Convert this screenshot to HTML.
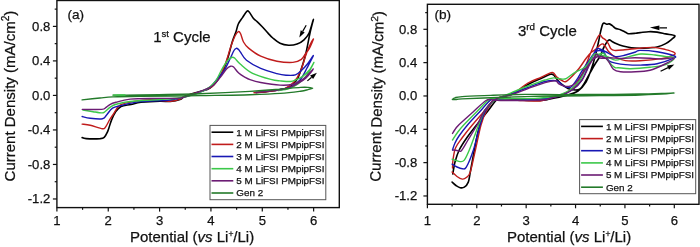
<!DOCTYPE html>
<html><head><meta charset="utf-8"><style>
html,body{margin:0;padding:0;background:#fff;width:700px;height:247px;overflow:hidden}
svg{position:absolute;left:0;top:0;filter:blur(0.3px)}
text{font-family:"Liberation Sans",sans-serif;fill:#111;stroke:#111;stroke-width:0.25px}
.tl{font-size:13.1px}
.at{font-size:15px}
.lg{font-size:9.85px}
</style></head><body>
<svg width="700" height="247" viewBox="0 0 700 247">
<g stroke="#111" stroke-width="1.2">
<rect x="56.9" y="0.5" width="282.4" height="207.1" fill="none" stroke="#111" stroke-width="1.4"/>
<line x1="52.9" y1="198.97" x2="56.9" y2="198.97"/>
<text class="tl" x="50.3" y="203.27" text-anchor="end">-1.2</text>
<line x1="54.7" y1="181.71" x2="56.9" y2="181.71"/>
<line x1="52.9" y1="164.45" x2="56.9" y2="164.45"/>
<text class="tl" x="50.3" y="168.75" text-anchor="end">-0.8</text>
<line x1="54.7" y1="147.20" x2="56.9" y2="147.20"/>
<line x1="52.9" y1="129.94" x2="56.9" y2="129.94"/>
<text class="tl" x="50.3" y="134.24" text-anchor="end">-0.4</text>
<line x1="54.7" y1="112.68" x2="56.9" y2="112.68"/>
<line x1="52.9" y1="95.42" x2="56.9" y2="95.42"/>
<text class="tl" x="50.3" y="99.72" text-anchor="end">0.0</text>
<line x1="54.7" y1="78.16" x2="56.9" y2="78.16"/>
<line x1="52.9" y1="60.90" x2="56.9" y2="60.90"/>
<text class="tl" x="50.3" y="65.20" text-anchor="end">0.4</text>
<line x1="54.7" y1="43.65" x2="56.9" y2="43.65"/>
<line x1="52.9" y1="26.39" x2="56.9" y2="26.39"/>
<text class="tl" x="50.3" y="30.69" text-anchor="end">0.8</text>
<line x1="54.7" y1="9.13" x2="56.9" y2="9.13"/>
<line x1="56.90" y1="207.6" x2="56.90" y2="211.6"/>
<text class="tl" x="56.90" y="225" text-anchor="middle">1</text>
<line x1="82.57" y1="207.6" x2="82.57" y2="209.8"/>
<line x1="108.25" y1="207.6" x2="108.25" y2="211.6"/>
<text class="tl" x="108.25" y="225" text-anchor="middle">2</text>
<line x1="133.92" y1="207.6" x2="133.92" y2="209.8"/>
<line x1="159.59" y1="207.6" x2="159.59" y2="211.6"/>
<text class="tl" x="159.59" y="225" text-anchor="middle">3</text>
<line x1="185.26" y1="207.6" x2="185.26" y2="209.8"/>
<line x1="210.94" y1="207.6" x2="210.94" y2="211.6"/>
<text class="tl" x="210.94" y="225" text-anchor="middle">4</text>
<line x1="236.61" y1="207.6" x2="236.61" y2="209.8"/>
<line x1="262.28" y1="207.6" x2="262.28" y2="211.6"/>
<text class="tl" x="262.28" y="225" text-anchor="middle">5</text>
<line x1="287.95" y1="207.6" x2="287.95" y2="209.8"/>
<line x1="313.63" y1="207.6" x2="313.63" y2="211.6"/>
<text class="tl" x="313.63" y="225" text-anchor="middle">6</text>
<rect x="427.4" y="4.3" width="271.6" height="200.0" fill="none" stroke="#111" stroke-width="1.4"/>
<line x1="423.4" y1="195.97" x2="427.4" y2="195.97"/>
<text class="tl" x="417.2" y="200.27" text-anchor="end">-1.2</text>
<line x1="425.2" y1="179.30" x2="427.4" y2="179.30"/>
<line x1="423.4" y1="162.63" x2="427.4" y2="162.63"/>
<text class="tl" x="417.2" y="166.93" text-anchor="end">-0.8</text>
<line x1="425.2" y1="145.97" x2="427.4" y2="145.97"/>
<line x1="423.4" y1="129.30" x2="427.4" y2="129.30"/>
<text class="tl" x="417.2" y="133.60" text-anchor="end">-0.4</text>
<line x1="425.2" y1="112.63" x2="427.4" y2="112.63"/>
<line x1="423.4" y1="95.97" x2="427.4" y2="95.97"/>
<text class="tl" x="417.2" y="100.27" text-anchor="end">0.0</text>
<line x1="425.2" y1="79.30" x2="427.4" y2="79.30"/>
<line x1="423.4" y1="62.63" x2="427.4" y2="62.63"/>
<text class="tl" x="417.2" y="66.93" text-anchor="end">0.4</text>
<line x1="425.2" y1="45.97" x2="427.4" y2="45.97"/>
<line x1="423.4" y1="29.30" x2="427.4" y2="29.30"/>
<text class="tl" x="417.2" y="33.60" text-anchor="end">0.8</text>
<line x1="425.2" y1="12.63" x2="427.4" y2="12.63"/>
<line x1="427.40" y1="204.3" x2="427.40" y2="208.3"/>
<text class="tl" x="427.40" y="225" text-anchor="middle">1</text>
<line x1="452.09" y1="204.3" x2="452.09" y2="206.5"/>
<line x1="476.78" y1="204.3" x2="476.78" y2="208.3"/>
<text class="tl" x="476.78" y="225" text-anchor="middle">2</text>
<line x1="501.47" y1="204.3" x2="501.47" y2="206.5"/>
<line x1="526.16" y1="204.3" x2="526.16" y2="208.3"/>
<text class="tl" x="526.16" y="225" text-anchor="middle">3</text>
<line x1="550.85" y1="204.3" x2="550.85" y2="206.5"/>
<line x1="575.55" y1="204.3" x2="575.55" y2="208.3"/>
<text class="tl" x="575.55" y="225" text-anchor="middle">4</text>
<line x1="600.24" y1="204.3" x2="600.24" y2="206.5"/>
<line x1="624.93" y1="204.3" x2="624.93" y2="208.3"/>
<text class="tl" x="624.93" y="225" text-anchor="middle">5</text>
<line x1="649.62" y1="204.3" x2="649.62" y2="206.5"/>
<line x1="674.31" y1="204.3" x2="674.31" y2="208.3"/>
<text class="tl" x="674.31" y="225" text-anchor="middle">6</text>
</g>
<g fill="none" stroke-width="1.4" stroke-linejoin="round" stroke-linecap="round">
<path d="M82.1 137.6 C82.8 137.8 83.2 138.4 86.2 138.6 C89.2 138.8 97.3 138.8 100.3 138.6 C103.3 138.3 103.2 138.2 104.4 137.1 C105.6 136.0 106.7 133.5 107.4 132.0 C108.2 130.5 108.2 130.0 108.9 128.0 C109.6 126.0 110.4 122.8 111.5 120.1 C112.6 117.4 113.9 114.3 115.5 112.0 C117.1 109.7 118.4 107.8 121.0 106.5 C123.6 105.2 127.7 105.2 131.0 104.5 C134.3 103.8 136.2 102.8 141.0 102.3 C145.8 101.8 155.1 101.3 160.0 101.2 C164.9 101.1 167.0 101.7 170.3 101.4 C173.6 101.1 177.5 100.4 180.0 99.5 C182.5 98.6 182.2 97.4 185.5 96.1 C188.8 94.8 195.9 92.8 200.0 91.5 C204.1 90.2 206.8 90.2 210.0 88.0 C213.2 85.8 216.5 81.7 219.0 78.0 C221.5 74.3 223.3 70.0 225.0 66.0 C226.7 62.0 227.8 58.2 229.0 54.0 C230.2 49.8 231.3 44.7 232.5 41.0 C233.7 37.3 234.9 34.8 235.9 32.0 C236.9 29.2 237.2 26.4 238.3 24.0 C239.4 21.6 241.1 19.7 242.5 17.6 C243.9 15.5 245.7 12.3 246.8 11.3 C247.9 10.3 247.9 10.6 249.0 11.8 C250.1 13.0 252.2 17.0 253.5 18.6 C254.8 20.2 255.7 20.3 257.1 21.6 C258.5 22.9 260.2 24.6 262.0 26.5 C263.8 28.4 266.2 31.2 268.0 33.1 C269.8 35.0 270.8 36.3 272.8 38.0 C274.8 39.7 277.4 42.0 280.0 43.2 C282.6 44.4 285.8 45.1 288.6 45.3 C291.5 45.4 294.5 45.0 297.1 44.1 C299.7 43.2 302.0 41.8 304.0 39.9 C306.0 38.0 307.5 36.4 309.1 33.0 C310.7 29.6 313.2 19.3 313.4 19.3 C313.5 19.3 311.3 27.2 310.0 33.0 C308.7 38.8 307.3 47.7 305.7 54.0 C304.1 60.3 302.2 66.5 300.6 71.0 C299.0 75.5 298.3 78.2 296.0 81.0 C293.7 83.8 291.3 86.3 287.0 88.0 C282.7 89.7 275.2 90.4 270.0 91.2 C264.8 92.0 258.3 92.4 256.0 92.6" stroke="#000000" stroke-width="1.60"/>
<path d="M82.1 124.1 C83.4 124.3 86.8 124.4 90.2 125.2 C93.6 126.0 99.9 128.4 102.4 128.7 C104.9 129.0 104.2 128.6 105.4 127.2 C106.6 125.8 108.1 122.3 109.4 120.1 C110.8 117.9 111.7 116.5 113.5 114.0 C115.3 111.5 116.5 107.3 120.1 105.2 C123.7 103.1 130.2 102.1 135.3 101.2 C140.4 100.3 144.6 99.6 150.5 99.6 C156.4 99.6 165.8 101.3 170.7 101.2 C175.6 101.1 177.5 99.9 180.0 99.1 C182.5 98.2 180.5 97.9 185.5 96.1 C190.5 94.2 204.2 91.3 210.0 88.0 C215.8 84.7 217.3 80.3 220.0 76.0 C222.7 71.7 224.2 67.0 226.0 62.0 C227.8 57.0 229.5 50.3 231.0 46.0 C232.5 41.7 233.8 38.4 235.0 36.0 C236.2 33.6 237.4 32.0 238.3 31.6 C239.2 31.2 239.6 31.8 240.5 33.5 C241.4 35.2 242.2 39.6 243.5 42.0 C244.8 44.4 245.7 45.7 248.6 48.1 C251.5 50.5 256.0 54.0 260.7 56.2 C265.4 58.4 271.5 60.2 276.9 61.2 C282.3 62.2 288.8 62.7 292.9 62.4 C297.0 62.1 299.3 60.9 301.4 59.4 C303.5 57.9 304.4 55.1 305.7 53.4 C307.0 51.7 307.8 51.4 309.1 49.0 C310.4 46.6 313.8 38.5 313.4 39.0 C313.0 39.5 309.1 46.7 307.0 52.0 C304.9 57.3 302.8 66.0 300.6 71.0 C298.4 76.0 296.6 79.1 294.0 82.0 C291.4 84.9 289.3 86.9 285.0 88.5 C280.7 90.1 273.2 90.8 268.0 91.5 C262.8 92.2 256.3 92.6 254.0 92.8" stroke="#c01c1c" stroke-width="1.40"/>
<path d="M82.1 116.5 C83.4 116.8 86.8 117.9 90.2 118.3 C93.6 118.7 99.7 119.3 102.4 118.8 C105.1 118.3 104.7 117.0 106.4 115.2 C108.1 113.4 110.1 109.8 112.5 108.2 C114.9 106.6 116.0 106.7 120.6 105.6 C125.2 104.5 131.8 102.5 140.0 101.6 C148.2 100.7 162.3 100.8 170.0 100.0 C177.7 99.2 179.7 98.4 186.0 96.5 C192.3 94.6 202.7 91.7 208.0 88.6 C213.3 85.5 215.3 81.0 218.0 78.0 C220.7 75.0 222.2 73.6 224.3 70.3 C226.4 67.0 228.7 61.5 230.3 58.2 C231.9 54.9 233.0 52.1 234.0 50.5 C235.0 48.9 235.7 48.5 236.4 48.3 C237.2 48.1 237.8 48.9 238.5 49.5 C239.2 50.1 239.2 50.3 240.5 52.1 C241.8 53.9 243.1 57.5 246.5 60.2 C249.9 62.9 255.6 66.1 260.7 68.3 C265.8 70.5 272.7 72.4 276.9 73.6 C281.1 74.8 282.9 75.0 286.0 75.2 C289.1 75.4 292.8 75.7 295.4 74.9 C298.0 74.1 299.4 72.4 301.4 70.6 C303.4 68.8 305.2 66.8 307.2 64.3 C309.2 61.8 313.4 55.0 313.4 55.6 C313.4 56.2 309.2 63.9 307.0 68.0 C304.8 72.1 302.8 76.8 300.0 80.0 C297.2 83.2 294.2 85.8 290.0 87.5 C285.8 89.2 277.5 90.0 275.0 90.5" stroke="#1818b4" stroke-width="1.40"/>
<path d="M82.9 110.0 C84.6 110.3 90.0 111.2 93.1 111.7 C96.2 112.2 99.8 112.9 101.7 112.9 C103.6 113.0 103.2 113.0 104.6 112.0 C106.0 111.0 108.4 108.4 110.3 107.1 C112.2 105.8 112.7 105.2 116.0 104.3 C119.3 103.4 122.7 102.3 130.0 101.5 C137.3 100.7 150.8 100.2 160.0 99.5 C169.2 98.8 177.5 98.6 185.0 97.0 C192.5 95.4 200.0 92.5 205.0 90.0 C210.0 87.5 212.2 85.5 215.0 82.0 C217.8 78.5 219.8 72.7 222.0 69.0 C224.2 65.3 226.3 62.0 228.0 60.0 C229.7 58.0 231.2 57.5 232.4 57.2 C233.6 57.0 233.7 57.3 235.0 58.5 C236.3 59.7 237.6 61.8 240.5 64.3 C243.4 66.8 247.5 70.9 252.6 73.4 C257.6 75.9 266.2 78.2 270.8 79.4 C275.4 80.7 276.6 80.6 280.0 80.9 C283.4 81.2 288.4 81.7 291.0 81.5 C293.6 81.3 293.5 80.8 295.4 80.0 C297.3 79.2 300.0 78.2 302.3 76.6 C304.6 75.0 307.3 72.7 309.2 70.3 C311.1 67.9 314.3 61.6 313.9 62.4 C313.5 63.2 309.6 71.4 307.0 75.0 C304.4 78.6 301.0 81.8 298.0 84.0 C295.0 86.2 292.3 87.4 289.0 88.5 C285.7 89.6 279.8 90.2 278.0 90.5" stroke="#3cc84a" stroke-width="1.40"/>
<path d="M82.3 109.4 C85.5 109.4 97.8 109.7 101.7 109.4 C105.6 109.1 104.3 108.6 105.7 107.7 C107.1 106.8 108.6 105.2 110.3 104.3 C112.0 103.4 112.7 103.2 116.0 102.3 C119.3 101.4 122.9 99.8 130.2 99.1 C137.5 98.4 151.7 98.6 160.0 98.4 C168.3 98.2 174.7 98.8 180.0 98.1 C185.3 97.4 187.9 95.9 192.0 94.5 C196.1 93.1 200.7 91.3 204.3 89.8 C207.9 88.2 210.7 87.3 213.4 85.2 C216.1 83.1 218.3 79.8 220.5 77.1 C222.7 74.4 224.8 70.8 226.5 69.0 C228.2 67.2 229.4 66.5 230.6 66.2 C231.8 65.9 232.2 65.8 233.6 67.0 C234.9 68.2 236.8 71.4 238.7 73.1 C240.5 74.8 242.8 76.0 244.7 77.1 C246.6 78.2 247.3 78.8 250.0 79.7 C252.7 80.6 255.7 81.6 260.7 82.5 C265.7 83.4 274.6 84.8 280.0 85.1 C285.4 85.4 289.3 85.1 292.9 84.3 C296.5 83.5 299.3 81.2 301.4 80.0 C303.4 78.8 303.2 79.2 305.2 77.4 C307.2 75.6 313.3 68.8 313.4 68.9 C313.5 69.0 308.7 75.5 306.0 78.0 C303.3 80.5 300.2 82.3 297.0 84.0 C293.8 85.7 291.5 87.1 287.0 88.3 C282.5 89.5 275.2 90.3 270.0 91.0 C264.8 91.7 258.3 92.1 256.0 92.3" stroke="#6c1c74" stroke-width="1.40"/>
<path d="M113.0 95.1 C117.5 95.1 125.5 95.1 140.0 94.9 C154.5 94.7 181.7 94.3 200.0 93.7 C218.3 93.1 236.6 92.2 250.0 91.4 C263.4 90.6 271.9 89.8 280.3 89.1 C288.7 88.4 296.0 87.7 300.6 87.4 C305.2 87.1 306.0 87.2 308.0 87.4 C310.0 87.6 312.7 87.9 312.7 88.3 C312.7 88.7 310.0 89.1 308.0 89.6 C306.0 90.1 305.2 90.6 300.6 91.2 C296.0 91.8 288.7 92.8 280.3 93.4 C271.9 94.0 263.4 94.3 250.0 94.7 C236.6 95.1 218.3 95.3 200.0 95.6 C181.7 95.9 154.5 96.1 140.0 96.3 C125.5 96.5 119.7 96.6 113.0 96.9 C106.3 97.2 105.2 97.5 100.0 98.0 C94.8 98.5 85.1 99.6 82.1 99.9" stroke="#237a2a" stroke-width="1.40"/>
<path d="M113.3 95.1 C115.2 95.1 123.0 95.0 125.0 95.0" stroke="#3cc84a" stroke-width="1.40"/>
<path d="M452.1 182.1 C452.8 182.7 454.6 184.6 456.0 185.5 C457.4 186.4 458.8 187.4 460.2 187.7 C461.6 188.0 462.9 188.1 464.3 187.2 C465.7 186.3 467.3 184.6 468.3 182.1 C469.3 179.6 469.4 177.0 470.3 172.0 C471.2 167.0 472.7 158.7 474.0 152.0 C475.3 145.3 476.5 138.0 478.0 132.0 C479.5 126.0 481.0 120.7 483.0 116.0 C485.0 111.3 487.5 107.0 490.0 104.0 C492.5 101.0 494.1 99.7 498.0 98.0 C501.9 96.3 508.3 96.0 513.3 93.8 C518.3 91.5 523.4 87.0 528.0 84.5 C532.6 82.0 537.2 80.2 541.0 78.5 C544.8 76.8 548.4 74.9 550.5 74.3 C552.6 73.7 552.4 74.1 553.5 75.0 C554.6 75.9 555.9 78.1 557.1 79.5 C558.4 80.9 559.2 82.1 561.0 83.6 C562.8 85.1 565.7 87.4 568.0 88.5 C570.3 89.6 573.0 89.9 575.0 90.0 C577.0 90.1 578.5 90.0 580.0 89.0 C581.5 88.0 582.7 86.1 584.0 84.0 C585.3 81.9 586.2 79.8 588.0 76.6 C589.8 73.4 592.5 68.4 594.5 65.0 C596.5 61.6 598.6 59.0 600.2 56.0 C601.8 53.0 602.6 49.6 604.0 47.0 C605.4 44.4 607.3 41.0 608.6 40.1 C609.9 39.2 610.8 40.9 612.0 41.5 C613.2 42.1 614.2 42.8 616.0 43.6 C617.8 44.4 620.3 45.4 622.9 46.1 C625.5 46.8 628.5 47.5 631.4 47.9 C634.2 48.3 637.1 48.3 640.0 48.3 C642.9 48.3 645.8 48.1 648.6 47.9 C651.5 47.7 654.2 47.7 657.1 47.0 C660.0 46.3 663.3 44.9 665.7 43.6 C668.1 42.3 670.2 40.6 671.7 39.3 C673.2 38.0 675.7 36.5 674.7 35.6 C673.7 34.7 668.6 34.5 665.7 33.9 C662.8 33.3 660.0 32.5 657.1 32.1 C654.2 31.7 651.5 31.6 648.6 31.7 C645.8 31.8 642.2 32.4 640.0 32.6 C637.8 32.9 637.5 33.0 635.6 33.2 C633.7 33.4 630.2 33.9 628.5 33.7 C626.8 33.5 626.9 32.9 625.5 32.2 C624.1 31.5 622.1 30.4 620.4 29.7 C618.7 29.0 616.6 28.9 615.3 28.2 C613.9 27.5 613.3 26.3 612.3 25.6 C611.3 24.9 610.2 24.1 609.3 23.9 C608.4 23.7 607.6 24.4 606.7 24.3 C605.9 24.2 604.9 23.1 604.2 23.1 C603.5 23.1 603.3 22.6 602.7 24.1 C602.1 25.6 601.2 29.0 600.5 32.0 C599.8 35.0 599.4 37.8 598.5 42.0 C597.6 46.2 596.2 52.3 595.0 57.0 C593.8 61.7 592.5 65.8 591.0 70.0 C589.5 74.2 588.2 78.5 586.0 82.0 C583.8 85.5 581.3 88.8 578.0 91.0 C574.7 93.2 570.7 94.2 566.0 95.5 C561.3 96.8 554.3 98.2 550.0 99.0 C545.7 99.8 545.0 100.3 540.0 100.5 C535.0 100.7 525.7 100.2 520.0 100.0 C514.3 99.8 509.7 99.4 506.0 99.2 C502.3 99.0 501.1 96.5 498.0 98.6 C494.9 100.6 491.1 107.1 487.5 111.5 C483.9 115.9 479.9 120.7 476.5 125.0 C473.1 129.3 469.9 133.3 467.0 137.5 C464.1 141.7 461.2 145.9 459.2 150.0 C457.2 154.1 456.1 158.0 455.0 162.0 C453.9 166.0 453.2 172.0 452.8 174.0" stroke="#000000" stroke-width="1.60"/>
<path d="M452.1 172.0 C452.9 172.8 455.3 175.3 457.0 176.5 C458.7 177.7 460.8 178.9 462.3 179.1 C463.9 179.3 465.0 178.8 466.3 177.6 C467.6 176.4 468.8 176.6 470.3 172.0 C471.8 167.4 473.6 157.8 475.4 150.0 C477.2 142.2 479.1 131.7 481.0 125.0 C482.9 118.3 484.5 114.3 487.0 110.0 C489.5 105.7 491.6 101.8 496.0 99.0 C500.4 96.2 508.0 95.9 513.3 93.2 C518.6 90.5 523.4 85.6 528.0 83.0 C532.6 80.4 537.0 79.1 540.9 77.4 C544.8 75.7 549.0 73.4 551.1 72.7 C553.2 72.0 552.7 72.3 553.7 73.1 C554.7 73.9 555.7 76.2 557.1 77.4 C558.5 78.6 560.5 79.8 562.0 80.5 C563.5 81.2 564.2 82.3 566.0 81.5 C567.8 80.7 570.4 78.0 572.6 75.7 C574.8 73.5 577.2 70.9 579.4 68.0 C581.6 65.1 584.1 61.1 586.0 58.5 C587.9 55.9 589.4 54.0 591.0 52.5 C592.6 51.0 593.9 50.8 595.4 49.6 C596.9 48.4 598.4 46.2 599.7 45.3 C601.0 44.4 602.1 43.6 603.1 44.0 C604.1 44.4 605.0 46.1 606.0 47.5 C607.0 48.9 607.6 50.5 609.1 52.1 C610.6 53.7 612.3 55.6 615.0 57.0 C617.7 58.4 621.3 60.0 625.5 60.6 C629.7 61.2 634.0 61.0 640.0 60.7 C646.0 60.4 655.8 59.5 661.4 58.6 C667.0 57.7 671.2 56.1 673.4 55.1 C675.5 54.1 675.6 53.4 674.3 52.5 C673.0 51.6 669.3 50.5 665.7 49.6 C662.1 48.8 658.0 47.5 652.9 47.4 C647.8 47.2 639.9 48.3 634.9 48.7 C629.9 49.1 626.3 49.7 622.9 50.0 C619.5 50.3 616.3 50.6 614.3 50.4 C612.3 50.2 611.9 49.8 610.9 48.7 C609.9 47.6 609.2 45.0 608.3 43.6 C607.4 42.2 606.7 41.1 605.7 40.1 C604.7 39.1 603.4 38.5 602.3 37.6 C601.2 36.8 600.7 33.8 599.3 35.0 C597.9 36.2 595.6 41.5 594.0 45.0 C592.4 48.5 591.2 51.5 589.4 56.0 C587.6 60.5 585.4 67.0 583.0 72.0 C580.6 77.0 578.0 82.5 575.0 86.0 C572.0 89.5 569.4 91.2 565.3 93.2 C561.1 95.2 554.3 96.9 550.1 98.2 C545.9 99.5 545.0 100.6 540.0 101.0 C535.0 101.4 526.0 100.8 520.0 100.5 C514.0 100.2 508.2 99.8 504.0 99.5 C499.8 99.2 498.4 96.7 495.0 98.8 C491.6 100.9 487.3 107.6 483.5 112.0 C479.7 116.4 475.9 120.7 472.3 125.0 C468.7 129.3 464.8 134.2 462.0 138.0 C459.2 141.8 457.0 144.3 455.5 148.0 C454.0 151.7 453.5 156.7 453.0 160.0 C452.5 163.3 452.6 166.7 452.5 168.0" stroke="#c01c1c" stroke-width="1.40"/>
<path d="M452.1 164.2 C452.9 164.7 455.3 166.2 457.0 167.0 C458.7 167.8 460.8 168.7 462.3 168.7 C463.9 168.7 464.5 170.3 466.3 167.2 C468.1 164.1 471.1 157.0 473.4 150.0 C475.7 143.0 477.9 131.7 480.0 125.0 C482.1 118.3 483.5 114.2 486.0 110.0 C488.5 105.8 490.2 102.9 495.0 100.0 C499.8 97.1 509.5 94.6 515.0 92.5 C520.5 90.4 523.0 89.3 528.0 87.5 C533.0 85.7 540.1 82.6 545.0 81.5 C549.9 80.4 554.2 80.3 557.1 80.9 C560.0 81.5 560.6 84.0 562.3 85.1 C564.0 86.2 565.8 87.1 567.4 87.3 C569.0 87.5 570.0 87.9 571.7 86.4 C573.4 84.9 576.1 80.7 577.7 78.3 C579.3 75.9 579.4 75.0 581.1 72.3 C582.8 69.6 585.6 65.4 588.0 62.0 C590.4 58.6 593.2 53.9 595.2 52.0 C597.2 50.1 598.5 50.4 600.0 50.5 C601.5 50.6 602.8 51.2 604.0 52.5 C605.2 53.8 606.1 56.6 607.0 58.0 C607.9 59.4 607.9 60.2 609.3 61.1 C610.7 62.0 612.7 62.5 615.4 63.1 C618.1 63.7 621.3 64.3 625.5 64.6 C629.7 64.9 635.4 65.2 640.7 65.1 C646.0 64.9 651.8 64.8 657.1 63.7 C662.4 62.6 669.7 59.9 672.6 58.6 C675.5 57.3 676.9 57.1 674.3 56.0 C671.7 54.9 662.8 52.6 657.1 51.7 C651.4 50.8 643.6 50.4 640.0 50.4 C636.4 50.4 638.0 51.2 635.6 52.0 C633.2 52.8 628.9 54.2 625.5 55.0 C622.1 55.8 618.6 57.1 615.4 56.6 C612.2 56.1 608.7 53.2 606.3 52.0 C603.9 50.8 602.6 50.0 601.0 49.5 C599.4 49.0 598.2 47.1 596.4 49.2 C594.6 51.3 592.4 56.9 590.0 62.0 C587.6 67.1 585.0 75.3 582.0 80.0 C579.0 84.7 575.7 87.4 572.0 90.0 C568.3 92.6 565.3 94.0 560.0 95.5 C554.7 97.0 546.6 98.2 540.0 99.0 C533.4 99.8 526.8 100.0 520.6 100.2 C514.4 100.4 507.8 100.2 503.0 100.0 C498.2 99.8 495.9 97.2 492.0 99.2 C488.1 101.2 483.6 107.7 479.5 112.0 C475.4 116.3 470.9 121.0 467.5 125.0 C464.1 129.0 461.1 133.0 459.0 136.0 C456.9 139.0 456.1 140.7 455.0 143.0 C453.9 145.3 452.9 148.8 452.5 150.0" stroke="#1818b4" stroke-width="1.40"/>
<path d="M452.1 159.1 C452.8 159.3 454.6 160.1 456.0 160.5 C457.4 160.9 458.8 161.7 460.2 161.6 C461.6 161.5 462.8 162.0 464.3 160.1 C465.8 158.2 466.9 155.8 469.3 150.0 C471.7 144.2 476.0 131.7 478.6 125.0 C481.2 118.3 482.3 114.2 485.0 110.0 C487.7 105.8 489.9 103.2 495.0 100.0 C500.1 96.8 510.2 93.3 515.7 91.0 C521.2 88.7 523.1 87.8 528.0 86.0 C532.9 84.2 540.8 81.3 545.1 80.0 C549.4 78.7 550.8 78.1 553.7 77.9 C556.6 77.8 560.1 79.0 562.3 79.1 C564.4 79.2 564.5 79.4 566.6 78.3 C568.7 77.2 572.2 74.0 575.1 72.3 C578.0 70.6 581.2 69.7 583.7 68.0 C586.2 66.3 588.0 63.9 590.0 62.0 C592.0 60.1 594.2 57.9 596.0 56.5 C597.8 55.1 599.6 53.9 601.0 53.5 C602.4 53.1 603.2 52.7 604.5 54.0 C605.8 55.3 606.9 59.2 608.6 61.4 C610.3 63.6 613.0 66.4 614.6 67.4 C616.2 68.5 615.7 67.5 618.4 67.7 C621.1 67.9 625.3 68.8 630.6 68.7 C635.9 68.6 644.1 67.9 650.0 67.2 C655.9 66.5 661.7 66.1 665.7 64.6 C669.8 63.1 674.4 59.4 674.3 58.0 C674.2 56.6 668.2 57.0 665.0 56.5 C661.8 56.0 659.0 55.4 655.0 55.0 C651.0 54.6 645.6 53.6 640.7 54.0 C635.8 54.4 629.7 56.6 625.5 57.6 C621.3 58.6 618.3 60.2 615.4 60.1 C612.5 60.0 610.5 57.9 608.0 57.0 C605.5 56.1 602.5 55.5 600.2 55.0 C597.9 54.5 596.4 52.8 594.4 54.3 C592.4 55.8 590.4 59.7 588.0 64.0 C585.6 68.3 583.0 75.7 580.0 80.0 C577.0 84.3 574.2 87.3 570.0 90.0 C565.8 92.7 560.8 94.6 555.0 96.0 C549.2 97.4 542.5 98.1 535.0 98.5 C527.5 98.9 516.2 98.4 510.0 98.5 C503.8 98.6 501.5 98.8 498.0 99.0 C494.5 99.2 492.6 97.4 489.0 99.6 C485.4 101.8 480.7 107.8 476.5 112.0 C472.3 116.2 466.9 121.6 463.7 125.0 C460.5 128.4 459.4 130.0 457.5 132.5 C455.6 135.0 453.3 138.8 452.5 140.0" stroke="#3cc84a" stroke-width="1.40"/>
<path d="M452.9 150.0 C453.6 150.1 455.6 150.4 457.0 150.5 C458.4 150.6 459.6 152.4 461.4 150.7 C463.2 148.9 465.4 144.3 468.0 140.0 C470.6 135.7 474.3 130.0 477.1 125.0 C479.9 120.0 482.0 114.2 485.0 110.0 C488.0 105.8 490.5 102.1 495.0 99.5 C499.5 96.9 506.5 96.3 512.0 94.5 C517.5 92.7 522.5 90.6 528.0 88.6 C533.5 86.6 540.5 83.9 545.1 82.6 C549.7 81.3 553.1 80.7 555.4 80.9 C557.7 81.1 557.5 83.1 558.9 83.9 C560.3 84.8 562.3 85.6 564.0 86.0 C565.7 86.4 567.2 86.8 569.1 86.4 C571.0 86.0 573.1 85.2 575.1 83.4 C577.1 81.6 579.1 78.4 581.1 75.7 C583.1 73.0 585.0 69.7 587.0 67.0 C589.0 64.3 591.2 61.2 593.0 59.5 C594.8 57.8 596.2 56.9 598.0 56.5 C599.8 56.1 602.3 56.4 604.0 57.2 C605.7 58.0 606.7 59.1 608.3 61.1 C609.9 63.1 611.4 67.4 613.4 69.2 C615.4 71.0 616.8 71.3 620.5 71.7 C624.2 72.1 630.7 72.0 635.6 71.7 C640.5 71.5 645.4 71.3 650.0 70.2 C654.6 69.1 659.0 67.0 663.0 65.0 C667.0 63.0 674.5 59.0 674.3 58.0 C674.1 57.0 666.0 59.0 662.0 59.0 C658.0 59.0 654.5 58.4 650.0 58.2 C645.5 58.0 639.7 57.8 635.0 57.8 C630.3 57.8 626.2 58.5 622.0 58.5 C617.8 58.5 613.6 57.9 610.0 57.8 C606.4 57.7 602.5 58.7 600.2 58.1 C597.9 57.5 598.1 53.3 596.4 54.3 C594.7 55.3 592.4 59.7 590.0 64.0 C587.6 68.3 585.0 75.7 582.0 80.0 C579.0 84.3 575.3 87.5 572.0 90.0 C568.7 92.5 565.7 93.6 562.0 95.0 C558.3 96.4 552.7 97.7 550.0 98.5 C547.3 99.3 548.1 99.4 545.6 99.7 C543.1 100.0 539.2 100.2 535.0 100.3 C530.8 100.4 525.9 100.6 520.6 100.6 C515.3 100.6 507.6 100.6 503.0 100.5 C498.4 100.4 495.8 100.0 493.0 100.0 C490.2 100.0 489.4 98.4 486.0 100.5 C482.6 102.6 477.1 108.4 472.5 112.5 C467.9 116.6 461.6 122.2 458.7 125.0 C455.8 127.8 456.0 128.1 455.0 129.5 C454.0 130.9 452.9 132.8 452.5 133.5" stroke="#6c1c74" stroke-width="1.40"/>
<path d="M452.4 99.4 C452.8 99.1 453.4 98.3 455.0 97.8 C456.6 97.3 456.2 97.0 462.1 96.6 C468.1 96.2 480.2 95.8 490.7 95.4 C501.2 95.0 513.5 94.5 525.0 94.4 C536.5 94.3 547.5 94.6 560.0 94.6 C572.5 94.6 586.7 94.6 600.0 94.5 C613.3 94.4 627.6 94.2 640.0 94.0 C652.4 93.8 674.6 92.9 674.6 93.1 C674.6 93.3 652.4 94.6 640.0 95.0 C627.6 95.4 613.3 95.4 600.0 95.6 C586.7 95.8 572.5 95.8 560.0 96.0 C547.5 96.2 536.5 96.3 525.0 96.6 C513.5 96.9 501.2 97.3 490.7 97.7 C480.2 98.1 468.1 98.6 462.1 98.9 C456.2 99.2 456.6 99.5 455.0 99.6 C453.4 99.7 452.8 99.4 452.4 99.4" stroke="#237a2a" stroke-width="1.40"/>
</g>
<line x1="306.2" y1="25.3" x2="302.7" y2="31.4" stroke="#000" stroke-width="1.2"/><path d="M299.3 37.5 L304.7 32.5 L300.7 30.3 Z" fill="#000"/>
<line x1="307.4" y1="80.9" x2="311.6" y2="77.3" stroke="#000" stroke-width="1.2"/><path d="M316.9 72.7 L310.1 75.5 L313.1 79.0 Z" fill="#000"/>
<line x1="667.0" y1="27.9" x2="659.4" y2="27.8" stroke="#000" stroke-width="1.2"/><path d="M649.9 27.6 L659.4 30.2 L659.4 25.4 Z" fill="#000"/>
<line x1="660.6" y1="71.2" x2="668.0" y2="67.6" stroke="#000" stroke-width="1.2"/><path d="M674.3 64.6 L667.0 65.6 L669.0 69.7 Z" fill="#000"/>
<rect x="210.0" y="125.4" width="115.8" height="74.3" fill="#fff" stroke="#555" stroke-width="1"/>
<line x1="211.5" y1="132.2" x2="233.3" y2="132.2" stroke="#000000" stroke-width="1.6"/>
<text class="lg" x="236.3" y="135.5">1 M LiFSI PMpipFSI</text>
<line x1="211.5" y1="144.4" x2="233.3" y2="144.4" stroke="#c01c1c" stroke-width="1.6"/>
<text class="lg" x="236.3" y="147.7">2 M LiFSI PMpipFSI</text>
<line x1="211.5" y1="156.5" x2="233.3" y2="156.5" stroke="#1818b4" stroke-width="1.6"/>
<text class="lg" x="236.3" y="159.8">3 M LiFSI PMpipFSI</text>
<line x1="211.5" y1="168.7" x2="233.3" y2="168.7" stroke="#3cc84a" stroke-width="1.6"/>
<text class="lg" x="236.3" y="172.0">4 M LiFSI PMpipFSI</text>
<line x1="211.5" y1="180.8" x2="233.3" y2="180.8" stroke="#6c1c74" stroke-width="1.6"/>
<text class="lg" x="236.3" y="184.1">5 M LiFSI PMpipFSI</text>
<line x1="211.5" y1="193.0" x2="233.3" y2="193.0" stroke="#237a2a" stroke-width="1.6"/>
<text class="lg" x="236.3" y="196.3">Gen 2</text>
<rect x="579.6" y="119.6" width="116.1" height="74.1" fill="#fff" stroke="#555" stroke-width="1"/>
<line x1="581.1" y1="126.4" x2="602.9" y2="126.4" stroke="#000000" stroke-width="1.6"/>
<text class="lg" x="605.9" y="129.7">1 M LiFSI PMpipFSI</text>
<line x1="581.1" y1="138.6" x2="602.9" y2="138.6" stroke="#c01c1c" stroke-width="1.6"/>
<text class="lg" x="605.9" y="141.9">2 M LiFSI PMpipFSI</text>
<line x1="581.1" y1="150.7" x2="602.9" y2="150.7" stroke="#1818b4" stroke-width="1.6"/>
<text class="lg" x="605.9" y="154.0">3 M LiFSI PMpipFSI</text>
<line x1="581.1" y1="162.9" x2="602.9" y2="162.9" stroke="#3cc84a" stroke-width="1.6"/>
<text class="lg" x="605.9" y="166.2">4 M LiFSI PMpipFSI</text>
<line x1="581.1" y1="175.0" x2="602.9" y2="175.0" stroke="#6c1c74" stroke-width="1.6"/>
<text class="lg" x="605.9" y="178.3">5 M LiFSI PMpipFSI</text>
<line x1="581.1" y1="187.2" x2="602.9" y2="187.2" stroke="#237a2a" stroke-width="1.6"/>
<text class="lg" x="605.9" y="190.5">Gen 2</text>
<text class="at" x="130" y="242.4">Potential (<tspan font-style="italic">vs</tspan> Li<tspan font-size="8.5" dy="-5.5">+</tspan><tspan dy="5.5">/Li)</tspan></text>
<text class="at" x="507" y="242.4">Potential (<tspan font-style="italic">vs</tspan> Li<tspan font-size="8.5" dy="-5.5">+</tspan><tspan dy="5.5">/Li)</tspan></text>
<text class="at" transform="translate(14.8,181.4) rotate(-90)">Current Density (mA/cm<tspan font-size="10.2" dy="-5.4">2</tspan><tspan dy="5.4">)</tspan></text>
<text class="at" transform="translate(380.4,181.8) rotate(-88.9)">Current Density (mA/cm<tspan font-size="10.2" dy="-5.4">2</tspan><tspan dy="5.4">)</tspan></text>
<text style="font-size:13.6px" x="67.4" y="19">(a)</text>
<text style="font-size:13.6px" x="434.4" y="19.3">(b)</text>
<text class="at" x="153.2" y="41.8">1<tspan font-size="9.5" dy="-5">st</tspan><tspan dy="5"> Cycle</tspan></text>
<text class="at" x="518" y="35.6">3<tspan font-size="9.8" dy="-5.6">rd</tspan><tspan dy="5.6"> Cycle</tspan></text>
</svg>
</body></html>
